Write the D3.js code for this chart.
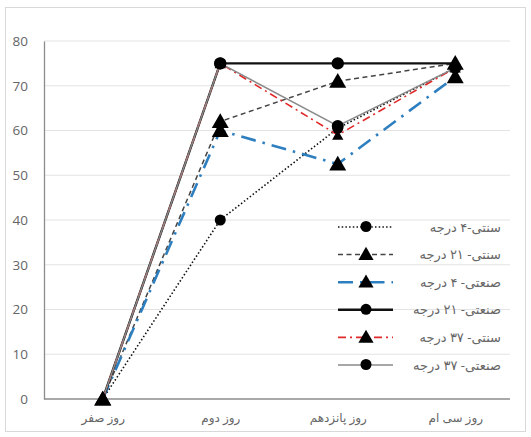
<!DOCTYPE html>
<html>
<head>
<meta charset="utf-8">
<script src="https://cdn.jsdelivr.net/npm/d3@7"></script>
<style>
  html, body { margin: 0; padding: 0; background: #fff; }
  svg { display: block; }
</style>
</head>
<body>
<svg id="chart" width="531" height="437"></svg>
<script>
// Sampling days along the x axis
const days = ["روز صفر", "روز دوم", "روز پانزدهم", "روز سی ام"];
const yTicks = [0, 10, 20, 30, 40, 50, 60, 70, 80];

// One array per treatment
const trad4   = [0, 40, 60.5, 74];
const trad21  = [0, 62, 71, 75];
const ind4    = [0, 60, 52.5, 72];
const ind21   = [0, 75, 75, 75];
const trad37  = [0, 75, 59, 74];
const ind37   = [0, 75, 61, 74];

const seriesNames = ["سنتی-۴ درجه", "سنتی- ۲۱ درجه", "صنعتی- ۴ درجه", "صنعتی- ۲۱ درجه", "سنتی- ۳۷ درجه", "صنعتی- ۳۷ درجه"];
const seriesValues = [trad4, trad21, ind4, ind21, trad37, ind37];

const styles = [
  { color: "#111", width: 1.6, dash: "1.5,2.2", marker: "circle", size: 5.5 },
  { color: "#444", width: 1.5, dash: "5,3.5", marker: "triangle", size: 125 },
  { color: "#2e7fc0", width: 2.6, dash: "15,7,2.5,7", marker: "triangle", size: 125 },
  { color: "#111", width: 2.4, dash: null, marker: "circle", size: 6.2 },
  { color: "#e02a2a", width: 1.6, dash: "8,4,2,4", marker: "triangle", size: 55 },
  { color: "#8a8a8a", width: 1.5, dash: null, marker: "circle", size: 6 }
];

const svg = d3.select("#chart");

// outer frame
svg.append("rect").attr("x", 5.5).attr("y", 7.5).attr("width", 520).attr("height", 424)
  .attr("fill", "#fff").attr("stroke", "#d9d9d9");

const plotLeft = 44, plotRight = 514, plotTop = 41, plotBottom = 399;

const x = d3.scalePoint().domain(days).range([plotLeft, plotRight]).padding(0.5);
const y = d3.scaleLinear().domain([0, 80]).range([plotBottom, plotTop]);

// gridlines
svg.append("g").selectAll("line").data(yTicks.filter(d => d > 0)).join("line")
  .attr("x1", plotLeft).attr("x2", plotRight - 4)
  .attr("y1", d => y(d)).attr("y2", d => y(d))
  .attr("stroke", "#e3e3e3").attr("stroke-width", 1);

// y axis
const yAxis = svg.append("g").attr("transform", `translate(${plotLeft},0)`)
  .call(d3.axisLeft(y).tickValues(yTicks).tickSize(0).tickPadding(16));
yAxis.select(".domain").attr("stroke", "#8c8c8c").attr("stroke-width", 1.3);
yAxis.selectAll("text").attr("fill", "#666").style("font-family", "'Open Sans', sans-serif").style("font-size", "13.5px");

// x axis
const xAxis = svg.append("g").attr("transform", `translate(0,${plotBottom})`)
  .call(d3.axisBottom(x).tickSize(0).tickPadding(14));
xAxis.select(".domain").attr("stroke", "#8c8c8c").attr("stroke-width", 1.3)
  .attr("d", `M${plotLeft},0H${plotRight - 4}`);
xAxis.selectAll("text").attr("fill", "#666").style("font-family", "'Noto Sans', 'DejaVu Sans', sans-serif").style("font-size", "12px");

const line = d3.line().x((d, i) => x(days[i])).y(d => y(d));

function drawMarker(g, st, cx, cy) {
  if (st.marker === "circle") {
    g.append("circle").attr("cx", cx).attr("cy", cy).attr("r", st.size).attr("fill", "#000");
  } else {
    const tri = d3.symbol().type(d3.symbolTriangle).size(st.size);
    g.append("path").attr("d", tri).attr("transform", `translate(${cx},${cy + 1.5})`).attr("fill", "#000");
  }
}

const plot = svg.append("g");
seriesValues.forEach((vals, s) => {
  const st = styles[s];
  plot.append("path").datum(vals).attr("d", line)
    .attr("fill", "none").attr("stroke", st.color).attr("stroke-width", st.width)
    .attr("stroke-dasharray", st.dash);
});

// a circle that sits exactly on a large triangle is hidden by it
const bigTriangleSeries = [1, 2];
function coveredByTriangle(s, i) {
  return styles[s].marker === "circle" &&
    bigTriangleSeries.some(t => seriesValues[t][i] === seriesValues[s][i]);
}

// small red triangles under the circles, large triangles on top
const markerOrder = [4, 0, 5, 3, 1, 2];
markerOrder.forEach(s => {
  const g = plot.append("g");
  seriesValues[s].forEach((v, i) => {
    if (!coveredByTriangle(s, i)) drawMarker(g, styles[s], x(days[i]), y(v));
  });
});

// legend
const legend = svg.append("g");
seriesNames.forEach((name, i) => {
  const st = styles[i];
  const ly = 227 + i * 27.6;
  const g = legend.append("g");
  g.append("line").attr("x1", 338).attr("x2", 393).attr("y1", ly).attr("y2", ly)
    .attr("stroke", st.color).attr("stroke-width", st.width).attr("stroke-dasharray", st.dash);
  drawMarker(g, Object.assign({}, st, { size: st.marker === "triangle" ? 100 : 5.5 }), 366, ly - 0.5);
  g.append("text").attr("x", 501).attr("y", ly + 4.5).attr("text-anchor", "end")
    .attr("fill", "#666").style("font-family", "'Noto Sans', 'DejaVu Sans', sans-serif").style("font-size", "13px")
    .text(name);
});
</script>
</body>
</html>
